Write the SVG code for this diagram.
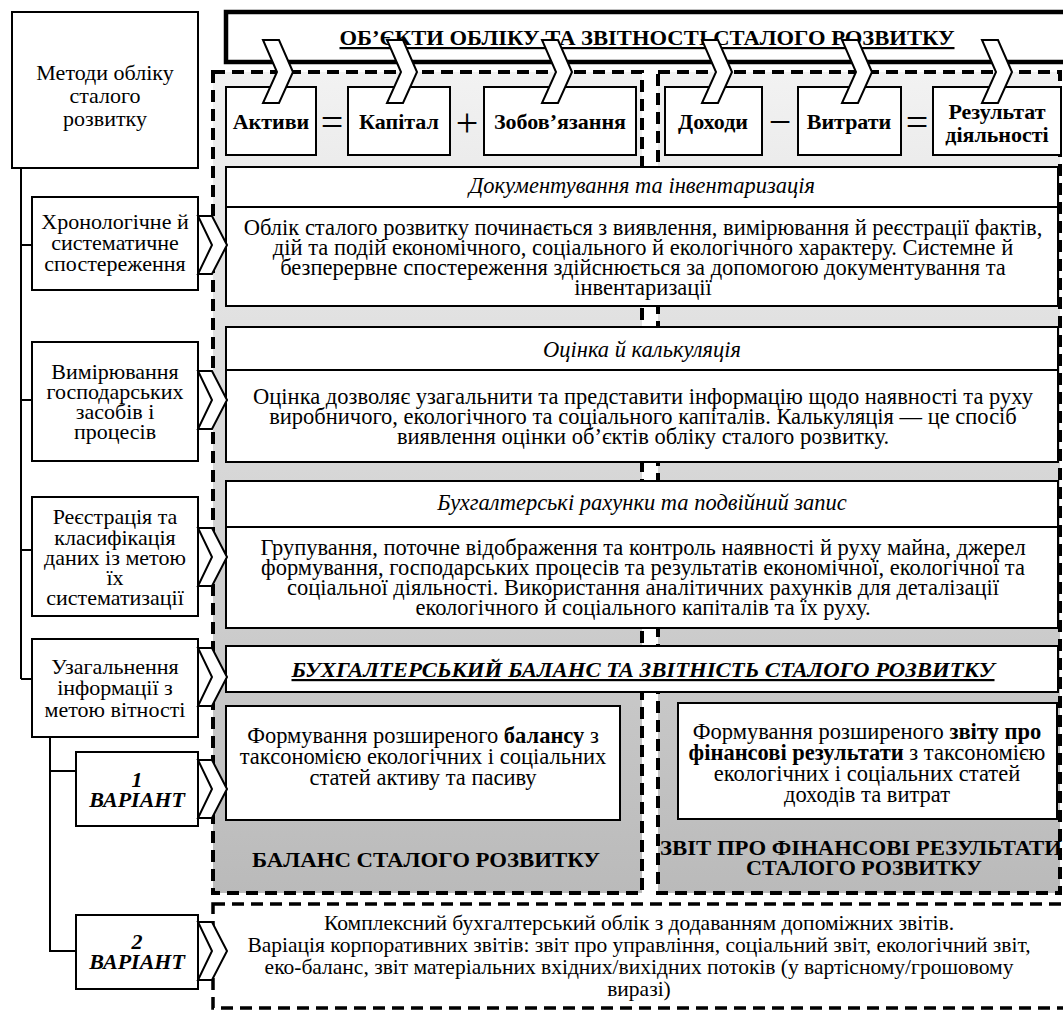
<svg xmlns="http://www.w3.org/2000/svg" width="1063" height="1010" viewBox="0 0 1063 1010" font-family="Liberation Serif">
<defs>
<linearGradient id="pg" x1="0" y1="0" x2="0" y2="1">
<stop offset="0" stop-color="#f2f2f2"/>
<stop offset="1" stop-color="#bababa"/>
</linearGradient>
<style>
text{font-family:'Liberation Serif','Times New Roman',serif;fill:#000}
.box{fill:#fff;stroke:#000;stroke-width:2}
.panel{fill:url(#pg);stroke:#000;stroke-width:4;stroke-dasharray:12 7}
.dash{fill:#fff;stroke:#000;stroke-width:3.5;stroke-dasharray:12 7}
.chev{fill:#fff;stroke:#000;stroke-width:2;stroke-linejoin:miter}
.ln{stroke:#000;stroke-width:2;fill:none}
.t{font-size:22px;text-anchor:middle}
.w{font-size:22.5px;text-anchor:middle}
.s{font-size:21.5px;text-anchor:middle}
.f{font-size:22px;text-anchor:middle;font-weight:bold}
.b{font-weight:bold}
.i{font-style:italic}
.op{font-size:40px;text-anchor:middle}
</style>
</defs>

<g id="panels">
<rect class="panel" x="213" y="72" width="429" height="821"/>
<rect class="panel" x="658" y="72" width="402" height="821"/>
<rect class="dash" x="213" y="904" width="870" height="104"/>
</g>

<g id="title">
<rect x="226" y="12" width="850" height="50" fill="#fff" stroke="#000" stroke-width="4.5"/>
<text x="647" y="45" font-size="22" font-weight="bold" text-anchor="middle" text-decoration="underline" textLength="615" lengthAdjust="spacingAndGlyphs">ОБ’ЄКТИ ОБЛІКУ ТА ЗВІТНОСТІ СТАЛОГО РОЗВИТКУ</text>
</g>

<g id="formula">
<g id="f-aktyvy"><rect class="box" x="226" y="87" width="90" height="68"/><text class="f" x="271" y="129">Активи</text></g>
<text class="op" x="332" y="136">=</text>
<g id="f-kapital"><rect class="box" x="348" y="87" width="102" height="68"/><text class="f" x="399" y="129">Капітал</text></g>
<text class="op" x="467" y="136">+</text>
<g id="f-zobov"><rect class="box" x="484" y="87" width="152" height="68"/><text class="f" x="560" y="129">Зобов’язання</text></g>
<g id="f-dokhody"><rect class="box" x="665" y="87" width="97" height="68"/><text class="f" x="713" y="129">Доходи</text></g>
<text class="op" x="780" y="135">−</text>
<g id="f-vytraty"><rect class="box" x="798" y="87" width="103" height="68"/><text class="f" x="849" y="129">Витрати</text></g>
<text class="op" x="917" y="136">=</text>
<g id="f-rezult"><rect class="box" x="933" y="87" width="128" height="68"/><text class="f" x="997" y="119">Результат</text><text class="f" x="997" y="142">діяльності</text></g>
</g>

<g id="doc">
<rect class="box" x="226" y="167" width="832" height="139"/>
<line class="ln" x1="226" y1="207" x2="1058" y2="207"/>
<text class="w i" x="642" y="193">Документування та інвентаризація</text>
<text class="w" x="643" y="234.5">Облік сталого розвитку починається з виявлення, вимірювання й реєстрації фактів,</text>
<text class="w" x="643" y="254.5">дій та подій економічного, соціального й екологічного характеру. Системне й</text>
<text class="w" x="643" y="274.5">безперервне спостереження здійснюється за допомогою документування та</text>
<text class="w" x="643" y="294.5">інвентаризації</text>
</g>

<g id="otsinka">
<rect class="box" x="226" y="327" width="832" height="135"/>
<line class="ln" x1="226" y1="370" x2="1058" y2="370"/>
<text class="w i" x="642" y="357">Оцінка й калькуляція</text>
<text class="w" x="643" y="403.5">Оцінка дозволяє узагальнити та представити інформацію щодо наявності та руху</text>
<text class="w" x="643" y="423.5">виробничого, екологічного та соціального капіталів. Калькуляція — це спосіб</text>
<text class="w" x="643" y="443.5">виявлення оцінки об’єктів обліку сталого розвитку.</text>
</g>

<g id="rakhunky">
<rect class="box" x="226" y="481" width="832" height="147"/>
<line class="ln" x1="226" y1="527" x2="1058" y2="527"/>
<text class="w i" x="642" y="510">Бухгалтерські рахунки та подвійний запис</text>
<text class="w" x="643" y="554.5">Групування, поточне відображення та контроль наявності й руху майна, джерел</text>
<text class="w" x="643" y="574.5">формування, господарських процесів та результатів економічної, екологічної та</text>
<text class="w" x="643" y="594.5">соціальної діяльності. Використання аналітичних рахунків для деталізації</text>
<text class="w" x="643" y="614.5">екологічного й соціального капіталів та їх руху.</text>
</g>

<g id="balans-zvit">
<rect class="box" x="226" y="646" width="832" height="46"/>
<text class="b i" x="643" y="677" font-size="22" text-anchor="middle" text-decoration="underline" textLength="703" lengthAdjust="spacingAndGlyphs">БУХГАЛТЕРСЬКИЙ БАЛАНС ТА ЗВІТНІСТЬ СТАЛОГО РОЗВИТКУ</text>
</g>

<g id="balans-form">
<rect class="box" x="226" y="706" width="394" height="114"/>
<text class="w" x="423" y="743">Формування розширеного <tspan class="b">балансу</tspan> з</text>
<text class="w" x="423" y="764">таксономією екологічних і соціальних</text>
<text class="w" x="423" y="785">статей активу та пасиву</text>
</g>

<g id="zvit-form">
<rect class="box" x="678" y="703" width="379" height="116"/>
<text class="w" x="867" y="739">Формування розширеного <tspan class="b">звіту про</tspan></text>
<text class="w" x="867" y="760"><tspan class="b">фінансові результати</tspan> з таксономією</text>
<text class="w" x="867" y="781">екологічних і соціальних статей</text>
<text class="w" x="867" y="802">доходів та витрат</text>
</g>

<g id="panel-captions">
<text class="b" x="426" y="867" font-size="22" text-anchor="middle" textLength="348" lengthAdjust="spacingAndGlyphs">БАЛАНС СТАЛОГО РОЗВИТКУ</text>
<text class="b" x="660" y="855" font-size="22" textLength="402" lengthAdjust="spacingAndGlyphs">ЗВІТ ПРО ФІНАНСОВІ РЕЗУЛЬТАТИ</text>
<text class="b" x="864" y="875" font-size="22" text-anchor="middle" textLength="236" lengthAdjust="spacingAndGlyphs">СТАЛОГО РОЗВИТКУ</text>
</g>

<g id="kompleks">
<text class="s" x="639" y="930">Комплексний бухгалтерський облік з додаванням допоміжних звітів.</text>
<text class="s" x="639" y="952">Варіація корпоративних звітів: звіт про управління, соціальний звіт, екологічний звіт,</text>
<text class="s" x="639" y="974">еко-баланс, звіт матеріальних вхідних/вихідних потоків (у вартісному/грошовому</text>
<text class="s" x="639" y="996">виразі)</text>
</g>

<g id="connectors">
<polyline class="ln" points="21,168 21,679"/>
<line class="ln" x1="21" y1="245" x2="32" y2="245"/>
<line class="ln" x1="21" y1="400" x2="32" y2="400"/>
<line class="ln" x1="21" y1="550" x2="32" y2="550"/>
<line class="ln" x1="21" y1="679" x2="32" y2="679"/>
<polyline class="ln" points="50,737 50,951 76,951"/>
<line class="ln" x1="50" y1="771" x2="76" y2="771"/>
</g>

<g id="metody"><rect class="box" x="12" y="12" width="186" height="156"/>
<text class="t" x="105" y="79.5">Методи обліку</text><text class="t" x="105" y="102.5">сталого</text><text class="t" x="105" y="125.5">розвитку</text></g>

<g id="m1"><rect class="box" x="32" y="197" width="166" height="93"/>
<text class="t" x="115" y="229">Хронологічне й</text><text class="t" x="115" y="250">систематичне</text><text class="t" x="115" y="271">спостереження</text></g>

<g id="m2"><rect class="box" x="32" y="342" width="166" height="119"/>
<text class="t" x="115" y="379">Вимірювання</text><text class="t" x="115" y="399">господарських</text><text class="t" x="115" y="419">засобів і</text><text class="t" x="115" y="439">процесів</text></g>

<g id="m3"><rect class="box" x="32" y="497" width="166" height="119"/>
<text class="t" x="115" y="524">Реєстрація та</text><text class="t" x="115" y="545">класифікація</text><text class="t" x="115" y="565">даних із метою</text><text class="t" x="115" y="585">їх</text><text class="t" x="115" y="605">систематизації</text></g>

<g id="m4"><rect class="box" x="32" y="639" width="166" height="98"/>
<text class="t" x="115" y="674">Узагальнення</text><text class="t" x="115" y="695">інформації з</text><text class="t" x="115" y="717">метою вітності</text></g>

<g id="v1"><rect class="box" x="76" y="752" width="122" height="74"/>
<text class="t b i" x="137" y="787">1</text><text class="t b i" x="137" y="807">ВАРІАНТ</text></g>

<g id="v2"><rect class="box" x="76" y="915" width="122" height="74"/>
<text class="t b i" x="137" y="949">2</text><text class="t b i" x="137" y="969">ВАРІАНТ</text></g>

<g id="chevrons">
<polygon class="chev" points="263,40 279,40 293,72 279,103 263,103 277,72"/>
<polygon class="chev" points="387,40 403,40 417,72 403,103 387,103 401,72"/>
<polygon class="chev" points="542,40 558,40 572,72 558,103 542,103 556,72"/>
<polygon class="chev" points="702,40 718,40 732,72 718,103 702,103 716,72"/>
<polygon class="chev" points="842,40 858,40 872,72 858,103 842,103 856,72"/>
<polygon class="chev" points="982,40 998,40 1012,72 998,103 982,103 996,72"/>
<polygon class="chev" points="198,216 212,216 227,245 212,274 198,274 212,245"/>
<polygon class="chev" points="198,371 212,371 227,400 212,429 198,429 212,400"/>
<polygon class="chev" points="198,528 212,528 227,557 212,586 198,586 212,557"/>
<polygon class="chev" points="198,648 212,648 227,677 212,706 198,706 212,677"/>
<polygon class="chev" points="198,760 212,760 227,789 212,818 198,818 212,789"/>
<polygon class="chev" points="198,922 212,922 227,951 212,980 198,980 212,951"/>
</g>
</svg>
